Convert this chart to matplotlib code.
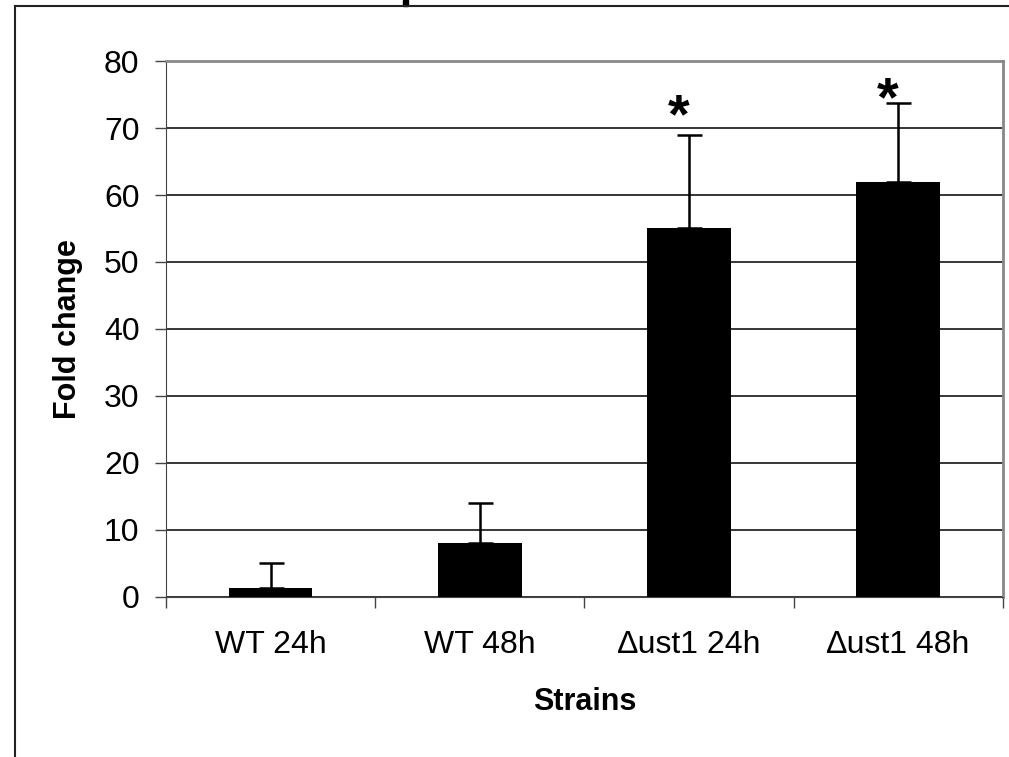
import numpy as np
import matplotlib.pyplot as plt
from matplotlib.lines import Line2D
from matplotlib.patches import Rectangle

plt.rcParams['font.family'] = ['Liberation Sans', 'DejaVu Sans']

# data
strains = ['WT 24h', 'WT 48h', '\u2206ust1 24h', '\u2206ust1 48h']
fold_change = [1.3, 8.1, 55.1, 62.0]
err_up = [3.8, 5.9, 13.8, 11.8]
signif = [False, False, True, True]
star_y = [0, 0, 71.5, 74.0]

fig = plt.figure(figsize=(10.09, 7.57), dpi=100)
ax = fig.add_axes([0.1645, 0.2114, 0.8295, 0.708])

x = np.arange(len(strains))
ax.bar(x, fold_change, width=0.4, color='black', zorder=3)
ax.errorbar(x, fold_change, yerr=[np.zeros(len(x)), err_up], fmt='none',
            ecolor='black', elinewidth=1.8, capsize=9, capthick=1.8, zorder=4)

for i in range(len(x)):
    if signif[i]:
        ax.text(x[i] - 0.05, star_y[i], '*', ha='center', va='center',
                fontsize=40, fontweight='bold', zorder=5)

ax.set_xlim(-0.5, len(x) - 0.5)
ax.set_ylim(0, 80)
ax.set_yticks(np.arange(0, 81, 10))
ax.yaxis.grid(True, color='black', linewidth=1.1, zorder=0)
ax.set_axisbelow(True)

ax.set_xticks(x)
ax.set_xticklabels(strains, fontsize=23)
ax.tick_params(axis='x', length=0, pad=24)
ax.set_xticks(np.arange(-0.5, len(x)), minor=True)
ax.tick_params(axis='x', which='minor', length=8, width=1, color='#444444')
ax.tick_params(axis='y', labelsize=23, length=8, width=1, color='#444444', pad=11)

ax.spines['top'].set_color('#888888')
ax.spines['right'].set_color('#888888')
ax.spines['top'].set_linewidth(2)
ax.spines['right'].set_linewidth(2)
ax.spines['left'].set_color('#444444')
ax.spines['bottom'].set_color('#444444')

ax.set_xlabel('Strains', fontsize=22, fontweight='bold', labelpad=19)
ax.set_ylabel('Fold change', fontsize=22, fontweight='bold', labelpad=15)

# outer frame of the pasted chart and the cut-off title stub
fig.add_artist(Line2D([14.5 / 1009, 14.5 / 1009], [0, 1 - 6 / 757],
                      transform=fig.transFigure, color='#222222', lw=1.5))
fig.add_artist(Line2D([14.5 / 1009, 1], [1 - 6 / 757, 1 - 6 / 757],
                      transform=fig.transFigure, color='#222222', lw=1.5))
fig.add_artist(Rectangle((403 / 1009, 1 - 6 / 757), 5 / 1009, 6 / 757,
                         transform=fig.transFigure, color='black'))

fig.savefig('out.png', dpi=100)
